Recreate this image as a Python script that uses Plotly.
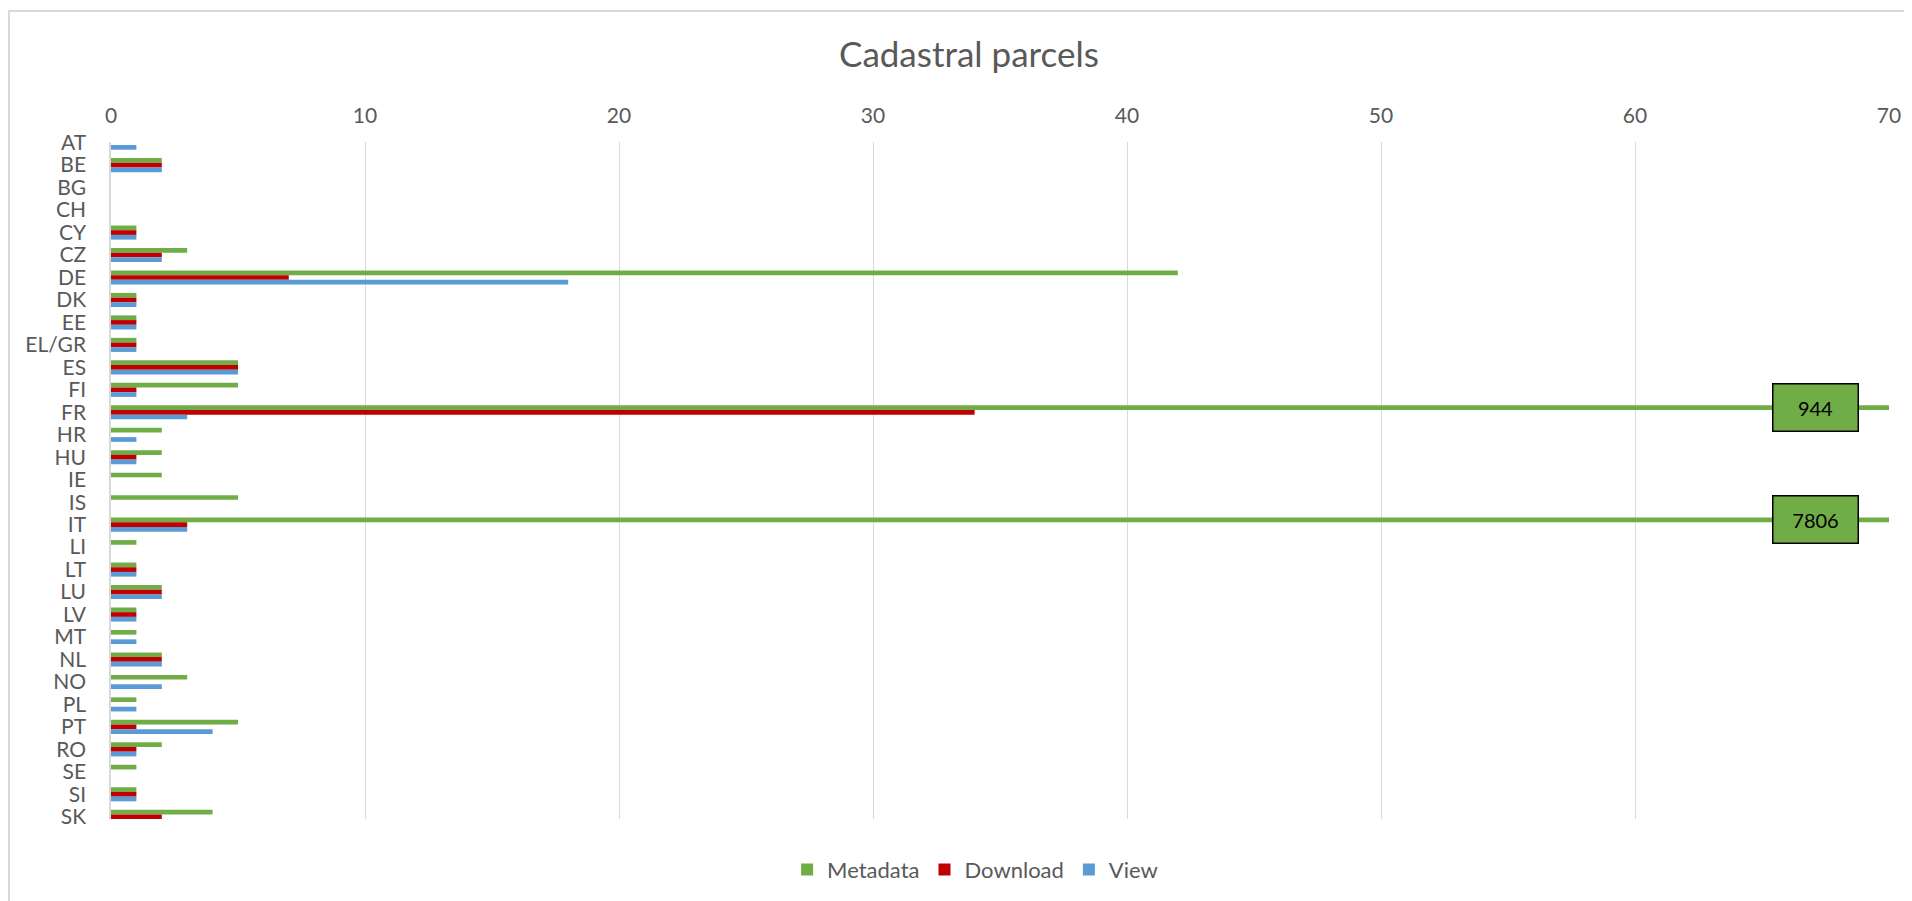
import plotly.graph_objects as go

countries = ["AT", "BE", "BG", "CH", "CY", "CZ", "DE", "DK", "EE", "EL/GR", "ES", "FI",
             "FR", "HR", "HU", "IE", "IS", "IT", "LI", "LT", "LU", "LV", "MT", "NL",
             "NO", "PL", "PT", "RO", "SE", "SI", "SK"]
metadata = [0, 2, 0, 0, 1, 3, 42, 1, 1, 1, 5, 5, 944, 2, 2, 2, 5, 7806, 1, 1, 2, 1, 1, 2,
            3, 1, 5, 2, 1, 1, 4]
download = [0, 2, 0, 0, 1, 2, 7, 1, 1, 1, 5, 1, 34, 0, 1, 0, 0, 3, 0, 1, 2, 1, 0, 2,
            0, 0, 1, 1, 0, 1, 2]
view = [1, 2, 0, 0, 1, 2, 18, 1, 1, 1, 5, 1, 3, 1, 1, 0, 0, 3, 0, 1, 2, 1, 1, 2,
        2, 1, 4, 1, 0, 1, 0]
x_ticks = [0, 10, 20, 30, 40, 50, 60, 70]

GREEN = "#70AD47"
RED = "#C00000"
BLUE = "#5B9BD5"
GRAY = "#595959"
FONT = "Lato"

fig = go.Figure()
for name, vals, col in [("Metadata", metadata, GREEN), ("Download", download, RED), ("View", view, BLUE)]:
    fig.add_trace(go.Bar(y=countries, x=vals, name=name, orientation="h",
                         marker=dict(color=col, line=dict(width=0))))

# labels for bars that run off the axis
annotations = []
x_max = x_ticks[-1]
for c, v in zip(countries, metadata):
    if v > x_max:
        annotations.append(dict(x=67.1, y=c, xref="x", yref="y", text=str(v), showarrow=False,
                                yshift=4.7, bgcolor=GREEN, bordercolor="black", borderwidth=1.5,
                                width=84, height=46, borderpad=0,
                                font=dict(family=FONT, size=20, color="black")))

fig.update_layout(
    width=1904, height=893,
    margin=dict(l=103, r=23, t=134, b=82, autoexpand=False),
    paper_bgcolor="white", plot_bgcolor="white",
    barmode="group", bargap=0.373, bargroupgap=0,
    title=dict(text="Cadastral parcels", x=0.5047, xref="container", xanchor="center",
               y=0.9474, yref="container", yanchor="middle",
               font=dict(family=FONT, size=35, color=GRAY)),
    font=dict(family=FONT, color=GRAY),
    legend=dict(orientation="h", x=0.486, xanchor="center", y=-0.075, yanchor="middle",
                font=dict(family=FONT, size=22, color=GRAY), traceorder="normal",
                itemwidth=30),
    xaxis=dict(side="top", range=[0, 70], tickmode="array", tickvals=x_ticks, showgrid=True,
               gridcolor="#D9D9D9", gridwidth=1, zeroline=False, showline=False,
               tickfont=dict(family=FONT, size=21, color=GRAY), ticklabelstandoff=14,
               automargin=False, fixedrange=True),
    yaxis=dict(type="category", range=[30.1, -0.03], tickmode="array", tickvals=countries,
               showgrid=False, zeroline=False,
               showline=True, linecolor="#D9D9D9", linewidth=1.5,
               tickfont=dict(family=FONT, size=21, color=GRAY), ticklabelstandoff=19,
               automargin=False, fixedrange=True),
    annotations=annotations,
    shapes=[dict(type="rect", xref="paper", yref="paper", x0=-0.0574, x1=1.06,
                 y0=-0.25, y1=1.1935, line=dict(color="#D9D9D9", width=2),
                 fillcolor="rgba(0,0,0,0)", layer="below")],
)

fig.write_html("out.html")
